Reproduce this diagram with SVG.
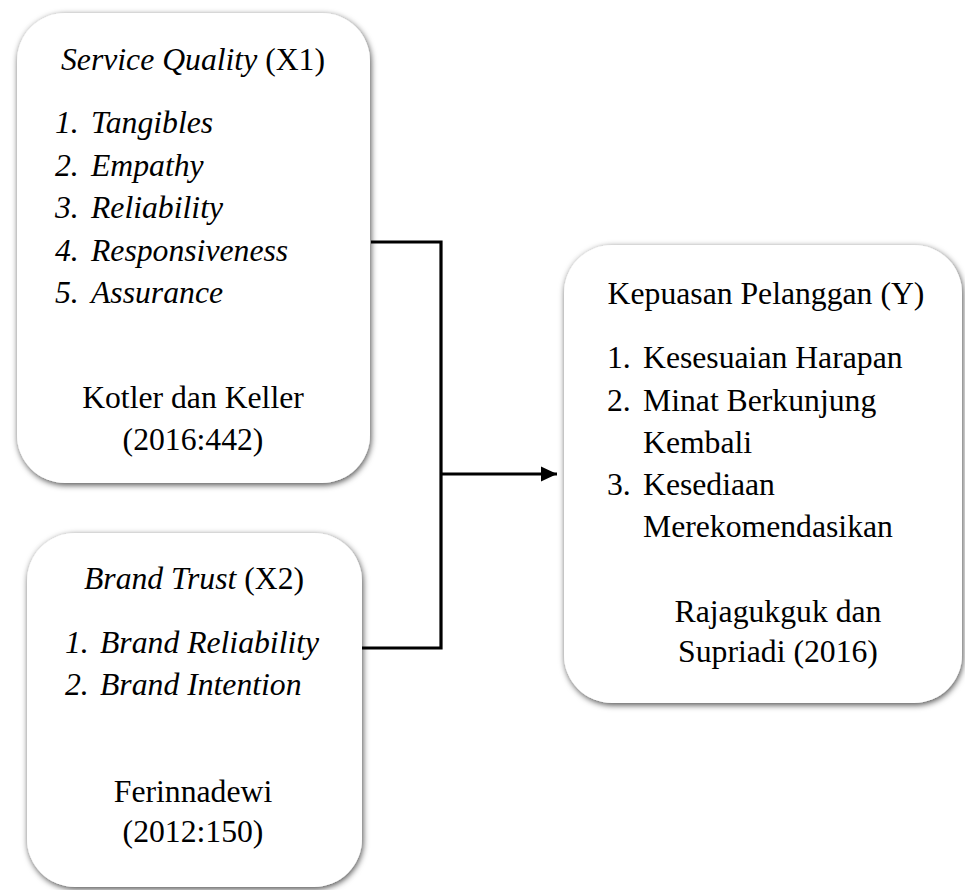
<svg xmlns="http://www.w3.org/2000/svg" width="965" height="890" viewBox="0 0 965 890" font-family="'Liberation Serif', 'Times New Roman', serif">
<style>
  .box { fill: #ffffff; filter: url(#sh); }
  text { font-family: 'Liberation Serif', 'Times New Roman', serif; font-size: 31.7px; fill: #000; }
  .it { font-style: italic; }
  .c { text-anchor: middle; }
  .conn { fill: none; stroke: #000; stroke-width: 3.2; }
</style>
<defs>
  <filter id="sh" x="-10%" y="-10%" width="120%" height="120%">
    <feGaussianBlur in="SourceAlpha" stdDeviation="3.2"/>
    <feOffset dx="0.5" dy="1.5" result="b"/>
    <feFlood flood-color="#000" flood-opacity="0.7"/>
    <feComposite in2="b" operator="in" result="s"/>
    <feMerge><feMergeNode in="s"/><feMergeNode in="SourceGraphic"/></feMerge>
  </filter>
  <marker id="ah" markerWidth="16" markerHeight="16" refX="16" refY="8" orient="auto" markerUnits="userSpaceOnUse">
    <path d="M0,0.5 L16,8 L0,15.5 Z" fill="#000"/>
  </marker>
</defs>
<rect width="965" height="890" fill="#ffffff"/>

<g id="connectors">
  <polyline class="conn" points="371,242 441,242 441,648 362,648"/>
  <line class="conn" x1="441" y1="474" x2="557" y2="474" marker-end="url(#ah)"/>
</g>

<g id="node-x1">
  <rect class="box" x="17" y="13" width="353" height="470" rx="48" ry="48"/>
  <text class="c" x="193" y="70"><tspan class="it">Service Quality</tspan> (X1)</text>
  <text class="it" x="55" y="133">1.</text><text class="it" x="91" y="133">Tangibles</text>
  <text class="it" x="55" y="175.5">2.</text><text class="it" x="91" y="175.5">Empathy</text>
  <text class="it" x="55" y="218">3.</text><text class="it" x="91" y="218">Reliability</text>
  <text class="it" x="55" y="260.5">4.</text><text class="it" x="91" y="260.5">Responsiveness</text>
  <text class="it" x="55" y="303">5.</text><text class="it" x="91" y="303">Assurance</text>
  <text class="c" x="193" y="408">Kotler dan Keller</text>
  <text class="c" x="193" y="450">(2016:442)</text>
</g>

<g id="node-x2">
  <rect class="box" x="27" y="533" width="335" height="354" rx="48" ry="48"/>
  <text class="c" x="194" y="589"><tspan class="it">Brand Trust</tspan> (X2)</text>
  <text class="it" x="65" y="653">1.</text><text class="it" x="100" y="653">Brand Reliability</text>
  <text class="it" x="65" y="695">2.</text><text class="it" x="100" y="695">Brand Intention</text>
  <text class="c" x="193" y="802">Ferinnadewi</text>
  <text class="c" x="193" y="842">(2012:150)</text>
</g>

<g id="node-y">
  <rect class="box" x="564" y="245" width="398" height="458" rx="48" ry="48"/>
  <text class="c" x="766" y="304">Kepuasan Pelanggan (Y)</text>
  <text x="607" y="368">1.</text><text x="643" y="368">Kesesuaian Harapan</text>
  <text x="607" y="411">2.</text><text x="643" y="411">Minat Berkunjung</text>
  <text x="643" y="453">Kembali</text>
  <text x="607" y="495">3.</text><text x="643" y="495">Kesediaan</text>
  <text x="643" y="537">Merekomendasikan</text>
  <text class="c" x="778" y="622">Rajagukguk dan</text>
  <text class="c" x="778" y="662">Supriadi (2016)</text>
</g>
</svg>
